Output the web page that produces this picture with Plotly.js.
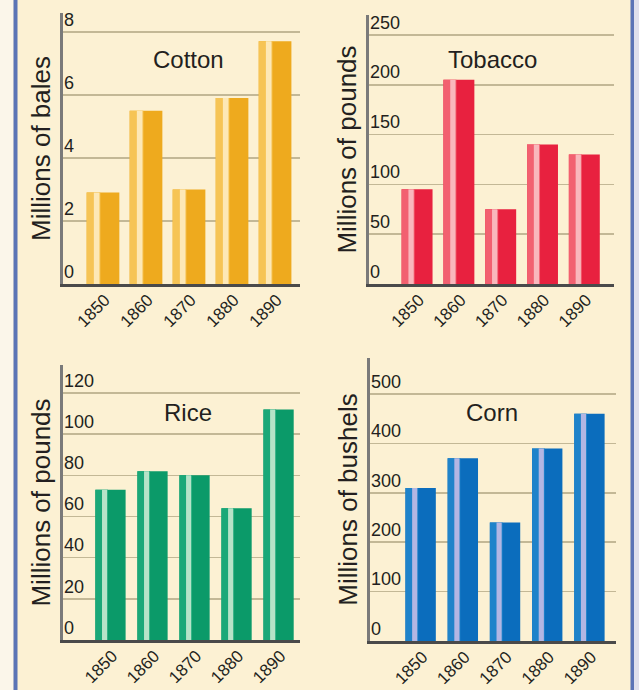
<!DOCTYPE html>
<html>
<head>
<meta charset="utf-8">
<script src="https://cdn.plot.ly/plotly-3.0.1.min.js"></script>
<style>
html,body{margin:0;padding:0;background:#fcf1d3;}
#chart{width:639px;height:690px;}
</style>
</head>
<body>
<div id="chart"></div>
<script>
// ---- data ----
const years = ['1850', '1860', '1870', '1880', '1890'];
const cotton = [2.9, 5.5, 3.0, 5.9, 7.7];
const tobacco = [95, 205, 75, 140, 130];
const rice = [73, 82, 80, 64, 112];
const corn = [310, 370, 240, 390, 460];

const panelTitles = ['Cotton', 'Tobacco', 'Rice', 'Corn'];
const yTitles = ['Millions of bales', 'Millions of pounds', 'Millions of pounds', 'Millions of bushels'];

// ---- styling ----
const W = 639, H = 690;
const FONT = '"Liberation Sans", Arial, sans-serif';
const px = v => v / W;
const py = v => 1 - v / H;

const panels = [
  {vals: cotton, colors: ['#eeaa1e', '#f6c455', '#fde8b6'], w: 0.76,
   x0: 63, x1: 300, yTop: 13, yBot: 284, yr: [0, 8.6], dt: 2, xr: [-0.93, 4.58],
   tx: 188, ty: 60},
  {vals: tobacco, colors: ['#e8213f', '#f26070', '#f9b7bc'], w: 0.74,
   x0: 369, x1: 614, yTop: 15, yBot: 284, yr: [0, 270], dt: 50, xr: [-1.15, 4.71],
   tx: 492, ty: 60},
  {vals: rice, colors: ['#0b9a69', '#1aa878', '#b6e3c8'], w: 0.72,
   x0: 63, x1: 300, yTop: 365, yBot: 640, yr: [0, 133.6], dt: 20, xr: [-1.13, 4.51],
   tx: 188, ty: 413},
  {vals: corn, colors: ['#0b6dbd', '#1f83ca', '#b3b6e3'], w: 0.72,
   x0: 370, x1: 616, yTop: 358, yBot: 641, yr: [0, 573], dt: 100, xr: [-1.2, 4.63],
   tx: 492, ty: 413}
];

const data = [];
const layout = {
  width: W, height: H,
  margin: {l: 0, r: 0, t: 0, b: 0},
  paper_bgcolor: '#fcf1d3',
  plot_bgcolor: 'rgba(0,0,0,0)',
  showlegend: false,
  barmode: 'overlay',
  font: {family: FONT, color: '#231f20'},
  annotations: [],
  shapes: [
    {type: 'rect', xref: 'paper', yref: 'paper', x0: 0, x1: px(13.5), y0: 0, y1: 1,
     fillcolor: '#fbf6ea', line: {width: 0}, layer: 'below'},
    {type: 'rect', xref: 'paper', yref: 'paper', x0: px(13.5), x1: px(17.5), y0: 0, y1: 1,
     fillcolor: '#5b74b6', line: {width: 0}},
    {type: 'rect', xref: 'paper', yref: 'paper', x0: px(630.5), x1: px(634), y0: 0, y1: 1,
     fillcolor: '#5b74b6', line: {width: 0}},
    {type: 'rect', xref: 'paper', yref: 'paper', x0: px(634), x1: 1, y0: 0, y1: 1,
     fillcolor: '#dfe0ec', line: {width: 0}}
  ]
};

panels.forEach((p, i) => {
  const n = i + 1;
  const xa = 'x' + (n === 1 ? '' : n), ya = 'y' + (n === 1 ? '' : n);
  const w = p.w;
  const common = {type: 'bar', x: years, y: p.vals, xaxis: xa, yaxis: ya,
                  hoverinfo: 'x+y'};
  // main body
  data.push(Object.assign({}, common, {width: w, marker: {color: p.colors[0], line: {width: 0}}}));
  // lighter left part
  data.push(Object.assign({}, common, {width: 0.42 * w, offset: -w / 2,
    marker: {color: p.colors[1], line: {width: 0}}}));
  // pale highlight stripe
  data.push(Object.assign({}, common, {width: 0.17 * w, offset: -w / 2 + 0.22 * w,
    marker: {color: p.colors[2], line: {width: 0}}}));

  layout['xaxis' + (n === 1 ? '' : n)] = {
    domain: [px(p.x0), px(p.x1)], anchor: ya,
    type: 'category', range: p.xr,
    showgrid: false, zeroline: false,
    showline: true, linecolor: '#4a4a4a', linewidth: 2.5,
    ticks: '', tickangle: -45,
    tickfont: {family: FONT, size: 17, color: '#231f20'},
    ticklabelstandoff: -3, ticklabelshift: 2,
    fixedrange: true
  };
  layout['yaxis' + (n === 1 ? '' : n)] = {
    domain: [py(p.yBot), py(p.yTop)], anchor: xa,
    range: p.yr, dtick: p.dt, tick0: 0,
    showgrid: true, gridcolor: '#c3b896', gridwidth: 1.6,
    zeroline: false,
    showline: true, linecolor: '#7a7a7a', linewidth: 3,
    ticks: '', ticklabelposition: 'inside top', ticklabeloverflow: 'allow',
    tickfont: {family: FONT, size: 18, color: '#231f20'},
    title: {text: yTitles[i], font: {family: FONT, size: 26, color: '#231f20'}, standoff: 6},
    fixedrange: true
  };
  layout.annotations.push({
    text: panelTitles[i], xref: 'paper', yref: 'paper',
    x: px(p.tx), y: py(p.ty), xanchor: 'center', yanchor: 'middle',
    showarrow: false, font: {family: FONT, size: 24, color: '#231f20'}
  });
});

Plotly.newPlot('chart', data, layout, {displayModeBar: false, staticPlot: true});
</script>
</body>
</html>
